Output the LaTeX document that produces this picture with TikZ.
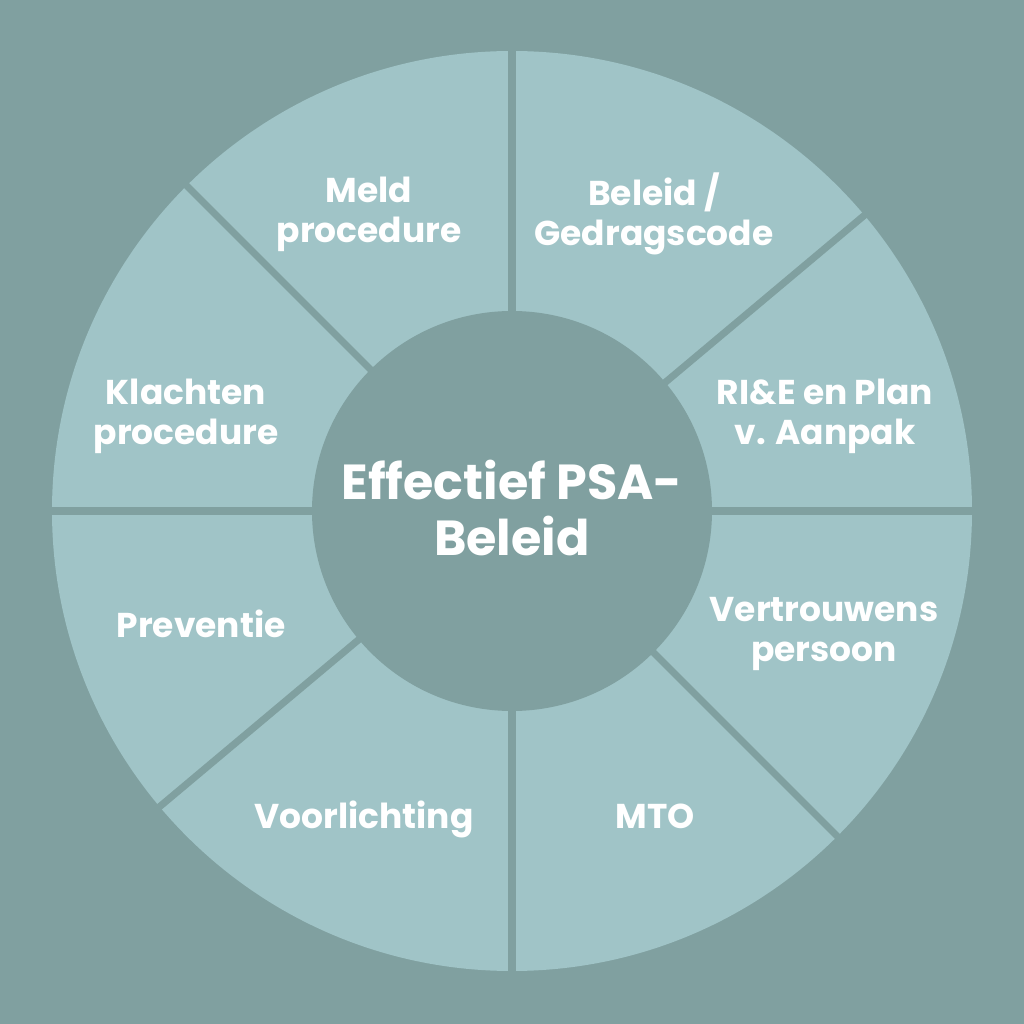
\documentclass[tikz,border=0pt]{standalone}
\usepackage{fontspec}
\setmainfont{Poppins}
\definecolor{bgteal}{HTML}{80A0A0}
\definecolor{segteal}{HTML}{A0C4C7}
\tikzset{segtext/.style={text=white, align=center,
    font=\bfseries\fontsize{24.5}{28.5}\selectfont},
  hubtext/.style={text=white, align=center,
    font=\bfseries\fontsize{35}{40}\selectfont}}

\begin{document}
\begin{tikzpicture}[x=0.025cm,y=0.025cm]
      \fill[bgteal] (-512,-512) rectangle (512,512);
      \useasboundingbox (-512,-512) rectangle (512,512);
      \fill[segteal] (0,1) circle [radius=460];
      \foreach \a in {0,40,90,135,180,220,270,315}
        \draw[bgteal, line width=5pt] (0,1) -- ++(\a:470);
      \fill[bgteal] (0,1) circle [radius=200];

      \node[hubtext] (hub) at (0,4) {Effectief PSA-\\Beleid};

      \node[segtext] (meld) at (-143,298) {Meld\\procedure};
      \node[segtext] (beleid) at (142,298) {Beleid /\\Gedragscode};
      \node[segtext] (klacht) at (-326,96) {Klachten\\procedure};
      \node[segtext] (rie) at (313,96) {RI\&E en Plan\\v. Aanpak};
      \node[segtext] (prev) at (-311,-112) {Preventie};
      \node[segtext] (vertr) at (312,-122) {Vertrouwens\\persoon};
      \node[segtext] (voorl) at (-148,-307) {Voorlichting};
      \node[segtext] (mto) at (143,-304) {MTO};
\end{tikzpicture}
\end{document}
